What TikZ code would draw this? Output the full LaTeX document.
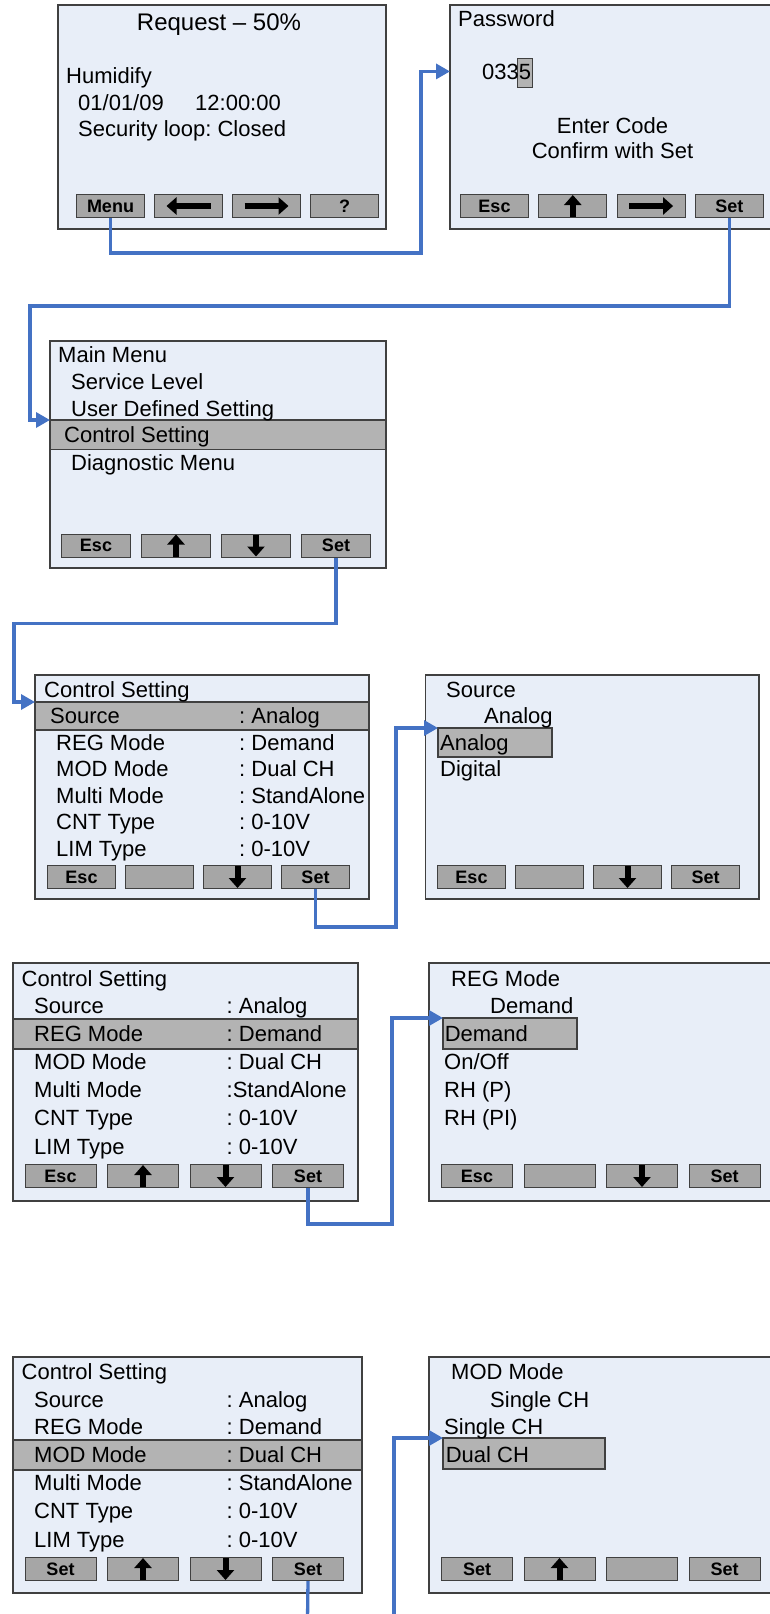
\documentclass[tikz,border=0pt]{standalone}
\usepackage{fontspec}
\setmainfont{Liberation Sans}
\usetikzlibrary{arrows.meta}
\frenchspacing
\definecolor{scr}{HTML}{E8EEF8}
\definecolor{keyg}{HTML}{A6A6A6}
\definecolor{selg}{HTML}{B3B3B3}
\definecolor{frame}{HTML}{404040}
\definecolor{wire}{HTML}{4472C4}
\newcommand{\scrfont}{\fontsize{22}{26}\selectfont}
\tikzset{
  screen/.style={draw=frame, line width=1.3pt, fill=scr, anchor=north west, inner sep=0pt, outer sep=0pt},
  selbar/.style={draw=frame, line width=1.3pt, fill=selg, anchor=north west, inner sep=0pt, outer sep=0pt},
  key/.style={draw=frame, line width=1pt, fill=keyg, anchor=north west, minimum height=23pt, inner sep=0pt, font=\fontsize{18}{20}\selectfont\bfseries},
  txt/.style={anchor=base west, inner sep=0pt, font=\scrfont},
  glyph/.style={line width=6pt, -{Triangle[length=10pt,width=17pt]}},
  link/.style={draw=wire, line width=3.3pt, -{Triangle[length=14pt,width=15pt]}},
}
% keys: name, left x, top y, width, step, labels
\newcommand{\keyrow}[6]{%
  \foreach \lab [count=\i] in {#6} {%
    \node[key, minimum width=#4] (#1k\i) at ({#2+(\i-1)*#5},#3) {\lab};
  }}
\newcommand{\keyglyph}[3]{\draw[glyph] ([shift={({-(#2)},{-(#3)})}]#1.center) -- ([shift={(#2,#3)}]#1.center);}
\newcommand{\scrlines}[2]{%
  \foreach \x/\y/\t [count=\i] in {#2} {\node[txt] (#1t\i) at (\x,\y) {\t};}}
\newcommand{\setrows}[4]{%
  \foreach \y/\a/\b [count=\i] in {#4} {%
    \node[txt] (#1a\i) at (#2,\y) {\a};
    \node[txt] (#1b\i) at (#3,\y) {\b};
  }}
\begin{document}
\begin{tikzpicture}[x=1pt,y=-1pt]
  \useasboundingbox (0,0) rectangle (769,1614);
  % screens
  \node[screen, minimum width=328, minimum height=224] (s1) at (58,5) {};
  \node[screen, minimum width=328, minimum height=224] (s2) at (450,5) {};
  \node[screen, minimum width=336, minimum height=227] (s3) at (50,341) {};
  \node[screen, minimum width=334, minimum height=224] (s4) at (35,675) {};
  \node[screen, minimum width=333.5, minimum height=224] (s5) at (425.5,675) {};
  \node[screen, minimum width=345, minimum height=238] (s6) at (13,963) {};
  \node[screen, minimum width=345, minimum height=238] (s7) at (429,963) {};
  \node[screen, minimum width=349, minimum height=236] (s8) at (13,1357) {};
  \node[screen, minimum width=345, minimum height=236] (s9) at (429,1357) {};
  % selections
  \node[selbar, line width=1pt, minimum width=15, minimum height=29] (h2) at (517,58) {};
  \node[selbar, minimum width=336, minimum height=29.5] (h3) at (50,420) {};
  \node[selbar, minimum width=334, minimum height=28] (h4) at (35,702) {};
  \node[selbar, minimum width=114, minimum height=29] (h5) at (438,728) {};
  \node[selbar, minimum width=345, minimum height=30] (h6) at (13,1019) {};
  \node[selbar, minimum width=134, minimum height=31] (h7) at (443,1018) {};
  \node[selbar, minimum width=349, minimum height=30] (h8) at (13,1440) {};
  \node[selbar, minimum width=162, minimum height=31] (h9) at (443,1438) {};

  % home screen
  \node[txt, anchor=base, font=\fontsize{24}{28}\selectfont] (s1t0) at (219,30) {Request \textendash{} 50\%};
  \scrlines{s1}{66/83/Humidify, 78/110/{01/01/09}, 195/110/12:00:00, 78/136/Security loop: Closed}
  \keyrow{s1}{76}{194}{68}{78}{Menu,{},{},?}
  \keyglyph{s1k2}{-22}{0}
  \keyglyph{s1k3}{22}{0}

  % password
  \scrlines{s2}{458/27/Password, 482/79/0335}
  \node[txt, anchor=base] (s2t3) at (612.5,133) {Enter Code};
  \node[txt, anchor=base] (s2t4) at (612.5,158) {Confirm with Set};
  \keyrow{s2}{460}{194}{68}{78.3}{Esc,{},{},Set}
  \keyglyph{s2k2}{0}{-11}
  \keyglyph{s2k3}{22}{0}

  % main menu
  \scrlines{s3}{58/362/Main Menu, 71/389/Service Level, 71/416/User Defined Setting,
    64/442/Control Setting, 71/470/Diagnostic Menu}
  \keyrow{s3}{61}{533.5}{69}{80}{Esc,{},{},Set}
  \keyglyph{s3k2}{0}{-11}
  \keyglyph{s3k3}{0}{11}

  % control setting: source
  \scrlines{s4}{44/697/Control Setting, 50/723/Source, 239/723/: Analog}
  \setrows{s4}{56}{239}{750/REG Mode/: Demand, 776/MOD Mode/: Dual CH,
    803/Multi Mode/: StandAlone, 829/CNT Type/: 0-10V, 856/LIM Type/: 0-10V}
  \keyrow{s4}{47}{865}{68}{78}{Esc,{},{},Set}
  \keyglyph{s4k3}{0}{11}

  \scrlines{s5}{446/697/Source, 484/723/Analog, 440/750/Analog, 440/776/Digital}
  \keyrow{s5}{437}{865}{68}{78}{Esc,{},{},Set}
  \keyglyph{s5k3}{0}{11}

  % control setting: REG mode
  \scrlines{s6}{21.5/986/Control Setting}
  \setrows{s6}{34}{226.5}{1013/Source/: Analog, 1041/REG Mode/: Demand, 1069/MOD Mode/: Dual CH,
    1097/Multi Mode/:StandAlone, 1125/CNT Type/: 0-10V, 1154/LIM Type/: 0-10V}
  \keyrow{s6}{24.5}{1164}{71}{82.5}{Esc,{},{},Set}
  \keyglyph{s6k2}{0}{-11}
  \keyglyph{s6k3}{0}{11}

  \scrlines{s7}{451/986/REG Mode, 490/1013/Demand, 444.6/1041/Demand, 444/1069/{On/Off},
    444/1097/RH (P), 444/1125/RH (PI)}
  \keyrow{s7}{441}{1164}{71}{82.5}{Esc,{},{},Set}
  \keyglyph{s7k3}{0}{11}

  % control setting: MOD mode
  \scrlines{s8}{21.5/1379/Control Setting}
  \setrows{s8}{34}{226.5}{1407/Source/: Analog, 1434/REG Mode/: Demand, 1462/MOD Mode/: Dual CH,
    1490/Multi Mode/: StandAlone, 1518/CNT Type/: 0-10V, 1547/LIM Type/: 0-10V}
  \keyrow{s8}{24.5}{1557}{71}{82.5}{Set,{},{},Set}
  \keyglyph{s8k2}{0}{-11}
  \keyglyph{s8k3}{0}{11}

  \scrlines{s9}{451/1379/MOD Mode, 490/1407/Single CH, 444/1434/Single CH, 445.6/1462/Dual CH}
  \keyrow{s9}{441}{1557}{71}{82.5}{Set,{},{},Set}
  \keyglyph{s9k2}{0}{-11}

  % links
  \coordinate (out8) at (307.5,1620);
  \coordinate (in9) at (394,1620);
  \draw[link] (s1k1.south) -- ++(0,35) -| ([xshift=-29pt]s2.west |- s2t2) -- (s2.west |- s2t2);
  \draw[link] (s2k4.south) -- ++(0,88) -| ([xshift=-20pt]h3.north west) -- (h3.north west);
  \draw[link] (s3k4.south) -- ++(0,66) -| ([xshift=-21pt]h4.north west) -- (h4.north west);
  \draw[link] (s4k4.south) -- ++(0,38) -| ([xshift=-42pt]h5.north west) -- (h5.north west);
  \draw[link] (s6k4.south) -- ++(0,36) -| ([xshift=-51pt]h7.north west) -- (h7.north west);
  \draw[link, -] (s8k4.south) -- (out8);
  \draw[link] (in9) |- (h9.north west);
\end{tikzpicture}
\end{document}
